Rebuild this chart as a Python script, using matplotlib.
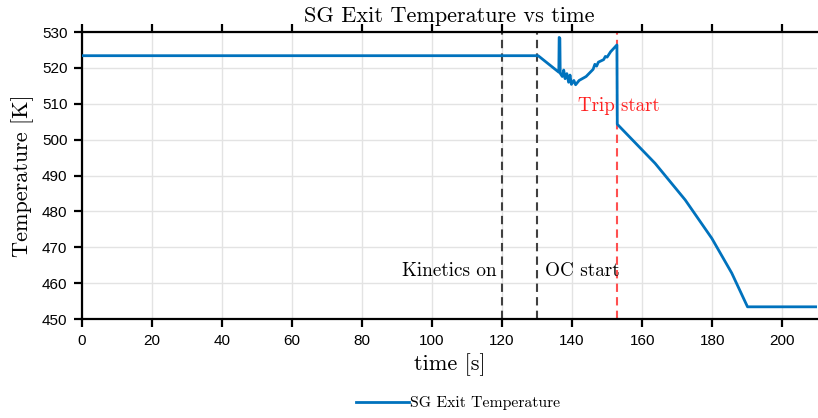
import numpy as np
import matplotlib
matplotlib.use("Agg")
import matplotlib.pyplot as plt

# SG exit temperature trace [s], [K]
t = [0, 130.3, 136.2, 136.3, 136.5, 136.6, 137.2, 137.6, 138.0, 138.5, 139.0,
     139.4, 139.8, 140.5, 141.0, 142.0, 144.0, 146.0, 146.5, 147.0, 147.5,
     149.0, 149.5, 150.0, 151.0, 152.8, 152.9, 163.7, 172.3, 179.9, 185.6,
     190.1, 210.0]
T = [523.4, 523.4, 518.8, 528.5, 528.3, 518.5, 517.6, 519.4, 517.0, 518.4, 516.0,
     518.0, 515.4, 516.5, 515.3, 516.5, 517.6, 519.6, 521.0, 520.5, 521.6,
     522.3, 523.2, 523.0, 524.5, 526.4, 504.3, 493.4, 483.2, 472.5, 462.8,
     453.4, 453.4]

t_kin = 120.0
t_oc = 130.0
t_trip = 152.8

serif = "cmr10"

fig = plt.figure(figsize=(8.18, 4.18), dpi=100)
ax = fig.add_axes([0.1002, 0.2368, 0.8988, 0.6866])

ax.plot(t, T, color="#0072BD", lw=2.0, label="SG Exit Temperature", zorder=3)
ax.axvline(t_kin, color="#404040", ls=(0, (4, 2.5)), lw=1.5)
ax.axvline(t_oc, color="#404040", ls=(0, (4, 2.5)), lw=1.5)
ax.axvline(t_trip, color="#ff5050", ls=(0, (4, 2.5)), lw=1.5)

ax.text(118.3, 463.4, "Kinetics on", ha="right", va="center", fontsize=13.8, family=serif)
ax.text(132.2, 463.4, "OC start", ha="left", va="center", fontsize=13.8, family=serif)
ax.text(141.6, 509.4, "Trip start", ha="left", va="center", fontsize=13.6,
        family=serif, color="#ff2020")

ax.set_xlim(0, 210)
ax.set_ylim(450, 530)
ax.set_xticks(np.arange(0, 201, 20))
ax.set_yticks(np.arange(450, 531, 10))
ax.grid(True, color="#e3e3e3", lw=1.0)
ax.set_axisbelow(True)

for s in ["left", "bottom", "top"]:
    ax.spines[s].set_linewidth(1.6)
ax.spines["right"].set_visible(False)
ax.tick_params(axis="both", direction="out", length=5.5, width=1.6,
               labelsize=11, top=True, pad=5)
for lab in ax.get_xticklabels() + ax.get_yticklabels():
    lab.set_family("Liberation Sans")

ax.set_title("SG Exit Temperature vs time", fontsize=16, family=serif, pad=7)
ax.set_xlabel("time [s]", fontsize=16, family=serif, labelpad=4)
ax.set_ylabel("Temperature [K]", fontsize=16, family=serif, labelpad=6)

fig.legend(loc="center", bbox_to_anchor=(0.56, 0.035), frameon=False,
           prop={"family": serif, "size": 11.3}, handlelength=3.4,
           handletextpad=0.1)

fig.savefig("out.png", dpi=100)
